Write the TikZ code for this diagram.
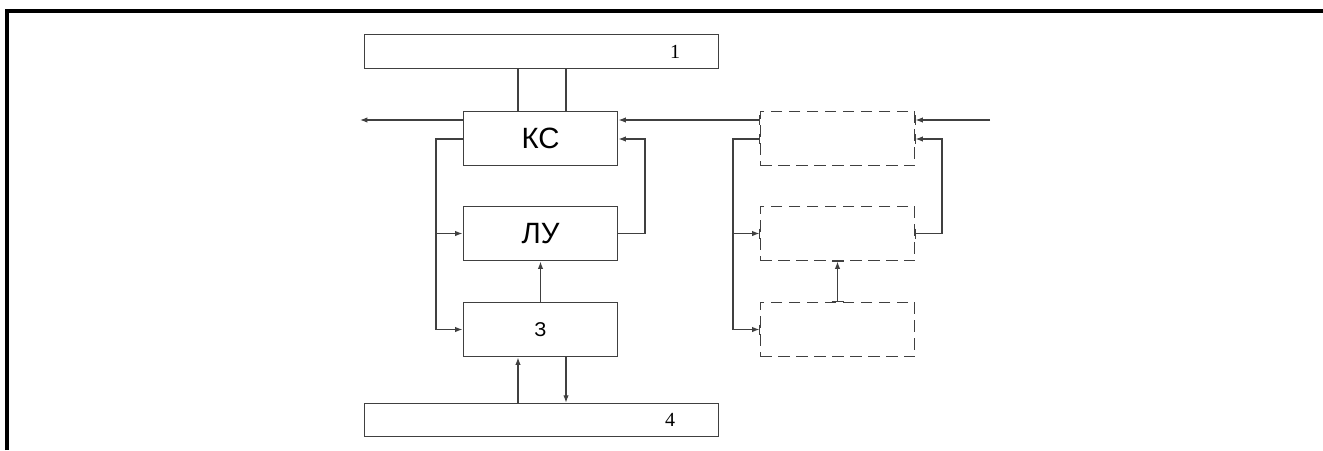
\documentclass[tikz,border=0pt]{standalone}
\usepackage{fontspec}
\setmainfont{Liberation Serif}
\newfontfamily\blkfont{Liberation Sans}
\usetikzlibrary{arrows.meta}

\tikzset{
  blk/.style={draw=black!75, line width=0.95pt, minimum width=116pt, minimum height=41pt,
    inner sep=0pt, font=\blkfont\fontsize{22}{22}\selectfont},
  dblk/.style={blk, dash pattern=on 8.5pt off 5pt},
  bus/.style={draw=black!75, line width=0.95pt, minimum width=266pt, minimum height=25pt, inner sep=0pt},
  num/.style={inner sep=0pt, font=\fontsize{15}{15}\selectfont},
  wire/.style={draw=black!75, line width=0.85pt},
  arr/.style={wire, -{Latex[length=5.5pt,width=4pt]}},
}

\begin{document}
\begin{tikzpicture}[x=0.75pt, y=-0.75pt]
  \useasboundingbox (0,0) rectangle (1323,450);
  % frame
  \draw[line width=2.3pt] (7,450) -- (7,11) -- (1323,11);

  % buses
  \node[bus] (bus1) at (541.5,51.5) {};
  \node[num] (n1) at (675,52) {1};
  \node[bus] (bus4) at (541.5,420) {};
  \node[num] (n4) at (670,420) {4};

  % main blocks
  \node[blk] (ks) at (540.5,138.5) {КС};
  \node[blk] (lu) at (540.5,233.5) {ЛУ};
  \node[blk, font=\blkfont\fontsize{15}{15}\selectfont] (z) at (540.5,329.5) {З};

  % reserve blocks
  \node[dblk] (d1) at (837.5,138.5) {};
  \node[dblk] (d2) at (837.5,233.5) {};
  \node[dblk] (d3) at (837.5,329.5) {};

  \coordinate (ta) at (518,0);
  \coordinate (tb) at (566,0);
  \coordinate (out) at (360,120);
  \coordinate (in) at (990,120);
  \coordinate (lbus) at (436,139);
  \coordinate (rbus) at (645,139);
  \coordinate (dlbus) at (733,139);
  \coordinate (drbus) at (942,139);

  % links to the buses
  \draw[wire] (bus1.south -| ta) -- (ks.north -| ta);
  \draw[wire] (bus1.south -| tb) -- (ks.north -| tb);
  \draw[arr] (bus4.north -| ta) -- (z.south -| ta);
  \draw[arr] (z.south -| tb) -- (bus4.north -| tb);

  % main chain
  \draw[arr] (ks.west |- out) -- (out);
  \draw[arr] (d1.west |- in) -- (ks.east |- in);
  \draw[arr] (lu.east) -| (rbus) -- (ks.east |- rbus);
  \draw[wire] (ks.west |- lbus) -- (lbus) -- (lbus |- z.west);
  \draw[arr] (lbus |- lu.west) -- (lu.west);
  \draw[arr] (lbus |- z.west) -- (z.west);
  \draw[arr] (z.north) -- (lu.south);

  % reserve chain
  \draw[arr] (in) -- (d1.east |- in);
  \draw[arr] (d2.east) -| (drbus) -- (d1.east |- drbus);
  \draw[wire] (d1.west |- dlbus) -- (dlbus) -- (dlbus |- d3.west);
  \draw[arr] (dlbus |- d2.west) -- (d2.west);
  \draw[arr] (dlbus |- d3.west) -- (d3.west);
  \draw[arr] (d3.north) -- (d2.south);

  % solid ticks where the lines meet the dashed edges
  \foreach \p in {d1.west |- in, d1.west |- dlbus, d1.east |- in, d1.east |- drbus, d2.west, d2.east, d3.west}
    \draw[wire] (\p) ++(0,-5) -- ++(0,10);
  \foreach \p in {d2.south, d3.north}
    \draw[wire] (\p) ++(-6,0) -- ++(12,0);
\end{tikzpicture}
\end{document}
